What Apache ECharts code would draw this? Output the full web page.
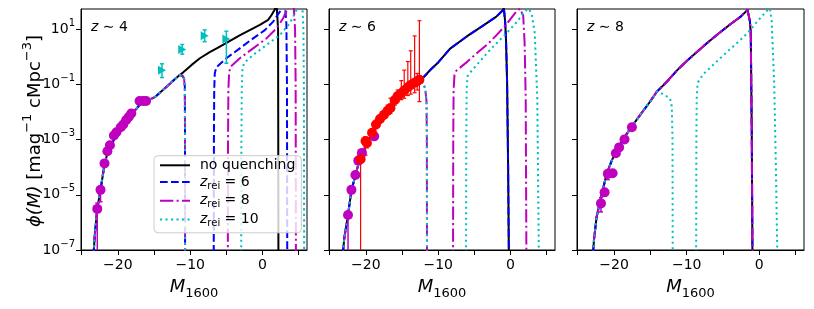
<!DOCTYPE html>
<html><head><meta charset="utf-8">
<script src="https://cdn.jsdelivr.net/npm/echarts@6/dist/echarts.min.js"></script>
<style>html,body{margin:0;padding:0;background:#fff}#c{width:814px;height:309px}</style>
</head><body><div id="c"></div><script>
// ---------- DATA (M_1600, log10 phi [mag^-1 cMpc^-3]) ----------
const xTicks = [-25, -20, -15, -10, -5, 0, 5];
const xTickLabels = [-20, -10, 0];
const yTicks = [-7, -5, -3, -1, 1];
const panelTitles = ['4', '6', '8'];

// z ~ 4
const z4_bright_M = [-23.45,-23.2,-22.85,-22.4,-21.85,-21.4,-20.8,-20.2,-19.5,-18.85,-18.15,-17.5,-17.0,-16.5,-15.7,-14.9,-14.2,-13.5,-12.8,-12.1,-11.45];
const z4_bright_y = [-7.5,-6.5,-5.5,-4.82,-3.9,-3.45,-3.15,-2.8,-2.52,-2.3,-2.08,-1.9,-1.74,-1.66,-1.56,-1.46,-1.3,-1.14,-0.97,-0.8,-0.66];
const z4_noq_M = [-11.0,-9.8,-8.66,-7.3,-5.9,-4.5,-3.1,-1.7,-0.37,0.78,1.25,1.7,1.95,2.1,2.15,2.17,2.2];
const z4_noq_y = [-0.57,-0.29,-0.05,0.17,0.37,0.58,0.79,0.98,1.16,1.34,1.52,1.72,1.9,1.9,1.0,-2,-7.5];
const z4_drop_M = [-11.1,-10.85,-10.74,-10.72,-10.71];
const z4_drop_y = [-0.68,-0.78,-1.1,-2.5,-7.5];
const z4_z6_M = [-6.75,-6.72,-6.68,-6.6,-6.4,-5.0,-3.14,-1.3,0.32,1.47,2.4,2.7,3.1,3.3,3.38,3.42];
const z4_z6_y = [-7.5,-3,-1.2,-0.6,-0.38,-0.05,0.31,0.67,0.97,1.28,1.64,1.85,1.9,1.2,-1,-7.5];
const z4_z8_M = [-4.8,-4.77,-4.72,-4.62,-4.4,-3.14,-1.3,0.55,1.94,2.85,3.5,3.8,4.3,4.5,4.58,4.62];
const z4_z8_y = [-7.5,-3,-1.2,-0.55,-0.35,-0.05,0.31,0.67,1.04,1.4,1.76,1.9,1.9,1.0,-1,-7.5];
const z4_z10_M = [-2.95,-2.92,-2.87,-2.78,-2.55,-1.3,0.55,2.4,3.78,4.47,4.8,5.2,5.5,5.65,5.72,5.76];
const z4_z10_y = [-7.5,-3,-1.2,-0.45,-0.22,0.07,0.43,0.79,1.22,1.58,1.76,1.9,1.9,1.0,-1,-7.5];
const z4_mag_M = [-22.85,-22.4,-21.85,-21.45,-21.1,-20.55,-20.2,-19.6,-19.25,-18.85,-18.5,-18.15,-17.0,-16.5,-16.1];
const z4_mag_y = [-5.51,-4.82,-3.86,-3.42,-3.2,-2.85,-2.73,-2.55,-2.45,-2.29,-2.18,-2.05,-1.6,-1.6,-1.6];
const z4_mag_lo = [-7.5,-5.25,-3.95,-3.5,-3.27,-2.92,-2.8,-2.6,-2.5,-2.34,-2.23,-2.1,-1.65,-1.65,-1.65];
const z4_mag_hi = [-5.3,-4.7,-3.78,-3.35,-3.13,-2.78,-2.66,-2.5,-2.4,-2.24,-2.13,-2.0,-1.55,-1.55,-1.55];
const z4_tri_M = [-13.9,-11.1,-8.0,-5.0];
const z4_tri_y = [-0.48,0.27,0.77,0.65];
const z4_tri_lo = [-0.75,0.1,0.55,-0.23];
const z4_tri_hi = [-0.25,0.45,0.98,0.93];

// z ~ 6
const z6_bright_M = [-23.3,-23.0,-22.47,-22.0,-21.4,-21.0,-20.5,-20.0,-19.5,-19.0,-18.5,-18.0,-17.0,-16.0,-15.0,-14.0,-13.0,-12.5];
const z6_bright_y = [-7.5,-6.6,-5.73,-4.85,-4.25,-3.85,-3.5,-3.2,-2.95,-2.72,-2.5,-2.3,-1.98,-1.68,-1.4,-1.15,-0.93,-0.83];
const z6_noq_M = [-12.0,-11.0,-10.0,-8.35,-6.0,-4.0,-2.0,-1.1,-0.92,-0.75,-0.62,-0.47,-0.33,-0.22];
const z6_noq_y = [-0.73,-0.45,-0.2,0.3,0.75,1.1,1.45,1.68,1.76,1.3,0.6,-0.96,-4.0,-7.5];
const z6_drop_M = [-12.1,-11.8,-11.62,-11.57,-11.55];
const z6_drop_y = [-0.95,-1.14,-1.6,-3,-7.5];
const z6_z8_M = [-7.95,-7.92,-7.87,-7.75,-7.5,-6.0,-4.68,-3.0,-1.93,-0.5,0.6,1.3,1.55,1.75,1.95,2.1,2.2];
const z6_z8_y = [-7.5,-3,-1.2,-0.65,-0.5,-0.18,0.13,0.5,0.79,1.2,1.58,1.75,1.78,1.5,0.5,-1.5,-7.5];
const z6_z10_M = [-6.15,-6.12,-6.07,-5.95,-5.6,-4.2,-2.85,-0.55,1.0,1.7,2.4,2.9,3.35,3.7,3.93];
const z6_z10_y = [-7.5,-3,-1.2,-0.7,-0.57,-0.15,0.25,0.86,1.3,1.57,1.75,1.6,0.86,-1.5,-7.5];
const z6_mag_M = [-22.47,-22.0,-21.45,-21.05,-20.55,-18.85];
const z6_mag_y = [-5.73,-4.82,-4.28,-3.76,-3.48,-2.88];
const z6_mag_lo = [-7.5,-4.95,-4.38,-3.85,-3.56,-2.95];
const z6_mag_hi = [-5.6,-4.7,-4.18,-3.68,-3.4,-2.8];
const z6_red_M = [-20.73,-20.05,-19.85,-19.15,-18.6,-18.05,-17.5,-17.0,-16.6,-16.0,-15.6,-15.1,-14.7,-14.2,-13.8,-13.26,-12.9,-12.6];
const z6_red_y = [-3.71,-3.05,-3.12,-2.75,-2.45,-2.25,-2.1,-1.95,-1.85,-1.56,-1.42,-1.32,-1.22,-1.1,-1.02,-0.94,-0.88,-0.83];
const z6_red_lo = [-7.5,-3.56,-3.3,-2.9,-2.6,-2.4,-2.25,-2.1,-2.05,-1.75,-1.62,-1.55,-1.5,-1.4,-1.35,-1.3,-1.2,-1.62];
const z6_red_hi = [-3.55,-2.9,-2.95,-2.6,-2.3,-2.1,-1.95,-1.75,-1.5,-1.38,-1.2,-0.86,-0.48,-0.17,0.22,0.76,-0.6,1.31];

// z ~ 8
const z8_bright_M = [-23.0,-22.75,-22.4,-21.8,-21.0,-20.3,-19.6,-18.9,-18.2,-17.3,-16.4,-15.2,-14.1];
const z8_bright_y = [-7.5,-6.6,-5.8,-5.1,-4.22,-3.75,-3.37,-3.05,-2.77,-2.43,-2.1,-1.68,-1.26];
const z8_noq_M = [-12.8,-11.3,-10.0,-8.55,-6.9,-5.3,-3.9,-2.56,-1.63,-1.45,-1.3,-1.18,-1.04,-0.94];
const z8_noq_y = [-0.92,-0.48,-0.15,0.19,0.57,0.91,1.2,1.46,1.7,1.77,1.3,0.86,-2.77,-7.5];
const z8_drop_M = [-13.6,-12.8,-12.3,-12.05,-11.95,-11.92];
const z8_drop_y = [-1.3,-1.42,-1.5,-1.8,-3,-7.5];
const z8_z10_M = [-8.7,-8.67,-8.62,-8.5,-8.2,-7.6,-6.0,-4.4,-3.0,-1.63,-0.3,1.13,1.45,1.69,2.05,2.28,2.5];
const z8_z10_y = [-7.5,-3,-1.5,-0.95,-0.8,-0.6,-0.2,0.19,0.52,0.86,1.28,1.7,1.76,1.34,-0.96,-3.98,-7.5];
const z8_mag_M = [-21.8,-21.3,-20.86,-20.2,-19.75,-19.3,-18.56,-17.54];
const z8_mag_y = [-5.31,-4.91,-4.24,-4.22,-3.49,-3.28,-2.99,-2.55];
const z8_mag_lo = [-5.62,-5.05,-4.45,-4.35,-3.6,-3.38,-3.08,-2.62];
const z8_mag_hi = [-5.1,-4.8,-4.1,-4.1,-3.4,-3.2,-2.9,-2.48];

// ---------- CHART ----------
const FONT = 'DejaVu Sans';
const C = {noq:'#000000', z6:'#0000ff', z8:'#bf00bf', z10:'#00bfbf', red:'#ff0000'};
const STY = {
  'no quenching': {color:C.noq, type:'solid'},
  'zrei6': {color:C.z6, type:[7.7,3.3]},
  'zrei8': {color:C.z8, type:[13.3,3.3,2.1,3.3]},
  'zrei10': {color:C.z10, type:[2.1,3.4]}
};
const zip = (M, y) => M.map((m, i) => [m, y[i]]);
const cat = (...parts) => [].concat(...parts);
const minus = v => (v < 0 ? '\u2212' + Math.abs(v) : String(v));

function line(gi, name, data) {
  const s = STY[name];
  return {type:'line', name, xAxisIndex:gi, yAxisIndex:gi, data, symbol:'none', showSymbol:false,
    silent:true, clip:true, z:2, animation:false,
    lineStyle:{color:s.color, width:2, type:s.type, cap:'butt', join:'round'}, itemStyle:{color:s.color}};
}
function scat(gi, name, M, y, color, symbol, size) {
  return {type:'scatter', name, xAxisIndex:gi, yAxisIndex:gi, data:zip(M, y), symbol, symbolSize:size,
    itemStyle:{color, opacity:1}, silent:true, z:4, clip:true, animation:false};
}
function err(gi, M, lo, hi, color, lw, cap) {
  return {type:'custom', xAxisIndex:gi, yAxisIndex:gi, clip:true, silent:true, z:3, animation:false,
    data:M.map((m, i) => [m, lo[i], hi[i]]), encode:{x:0, y:[1, 2]},
    renderItem:(p, api) => {
      const x = api.value(0);
      const a = api.coord([x, api.value(1)]), b = api.coord([x, api.value(2)]);
      const st = {stroke:color, lineWidth:lw};
      const ch = [{type:'line', shape:{x1:a[0], y1:a[1], x2:b[0], y2:b[1]}, style:st}];
      if (cap > 0) {
        ch.push({type:'line', shape:{x1:a[0]-cap, y1:a[1], x2:a[0]+cap, y2:a[1]}, style:st});
        ch.push({type:'line', shape:{x1:b[0]-cap, y1:b[1], x2:b[0]+cap, y2:b[1]}, style:st});
      }
      return {type:'group', children:ch};
    }};
}

const grids = [
  {left:81, top:9, width:226, height:241},
  {left:329, top:9, width:226, height:241},
  {left:577, top:9, width:227, height:241}
].map(g => Object.assign({show:true, borderColor:'#000', borderWidth:1, backgroundColor:'transparent'}, g));

const xAxes = [0, 1, 2].map(i => ({
  gridIndex:i, type:'value', min:-25.1, max:6.15,
  axisLine:{show:true, onZero:false, lineStyle:{color:'#000', width:1}},
  axisTick:{show:true, inside:false, length:5, customValues:xTicks, lineStyle:{color:'#000', width:1}},
  axisLabel:{show:true, customValues:xTickLabels, formatter:minus, color:'#000', fontSize:14, fontFamily:FONT, margin:8},
  splitLine:{show:false},
  name:'{m|M}{s|1600}', nameLocation:'middle', nameGap:24,
  nameTextStyle:{color:'#000', fontFamily:FONT, rich:{
    m:{fontSize:18, fontStyle:'italic', fontFamily:FONT, lineHeight:26, color:'#000'},
    s:{fontSize:13, fontFamily:FONT, lineHeight:13, verticalAlign:'bottom', color:'#000'}}}
}));
const yAxes = [0, 1, 2].map(i => ({
  gridIndex:i, type:'value', min:-7, max:1.736,
  axisLine:{show:true, onZero:false, lineStyle:{color:'#000', width:1}},
  axisTick:{show:true, inside:false, length:5, customValues:yTicks, lineStyle:{color:'#000', width:1}},
  axisLabel:{show:i === 0, customValues:yTicks, margin:6,
    formatter:v => '{b|10}{s|' + minus(v) + '}',
    rich:{b:{fontSize:14, fontFamily:FONT, color:'#000', lineHeight:22},
          s:{fontSize:10, fontFamily:FONT, color:'#000', lineHeight:10, verticalAlign:'top'}}},
  splitLine:{show:false}
}));

const series = [
  // z ~ 4
  line(0, 'no quenching', cat(zip(z4_bright_M, z4_bright_y), zip(z4_noq_M, z4_noq_y))),
  line(0, 'zrei6', cat(zip(z4_bright_M, z4_bright_y), zip(z4_drop_M, z4_drop_y))),
  line(0, 'zrei6', zip(z4_z6_M, z4_z6_y)),
  line(0, 'zrei8', cat(zip(z4_bright_M, z4_bright_y), zip(z4_drop_M, z4_drop_y))),
  line(0, 'zrei8', zip(z4_z8_M, z4_z8_y)),
  line(0, 'zrei10', cat(zip(z4_bright_M, z4_bright_y), zip(z4_drop_M, z4_drop_y))),
  line(0, 'zrei10', zip(z4_z10_M, z4_z10_y)),
  err(0, z4_mag_M, z4_mag_lo, z4_mag_hi, C.z8, 1.5, 2),
  scat(0, 'z4mag', z4_mag_M, z4_mag_y, C.z8, 'circle', 10),
  err(0, z4_tri_M, z4_tri_lo, z4_tri_hi, C.z10, 1.5, 2),
  scat(0, 'z4tri', z4_tri_M, z4_tri_y, C.z10, 'path://M0,0L10,5L0,10Z', [8, 9]),
  // z ~ 6
  line(1, 'no quenching', cat(zip(z6_bright_M, z6_bright_y), zip(z6_noq_M, z6_noq_y))),
  line(1, 'zrei6', cat(zip(z6_bright_M, z6_bright_y), zip(z6_noq_M, z6_noq_y))),
  line(1, 'zrei8', cat(zip(z6_bright_M, z6_bright_y), zip(z6_drop_M, z6_drop_y))),
  line(1, 'zrei8', zip(z6_z8_M, z6_z8_y)),
  line(1, 'zrei10', cat(zip(z6_bright_M, z6_bright_y), zip(z6_drop_M, z6_drop_y))),
  line(1, 'zrei10', zip(z6_z10_M, z6_z10_y)),
  err(1, z6_mag_M, z6_mag_lo, z6_mag_hi, C.z8, 1.5, 2),
  scat(1, 'z6mag', z6_mag_M, z6_mag_y, C.z8, 'circle', 10),
  err(1, z6_red_M, z6_red_lo, z6_red_hi, C.red, 1.2, 2),
  scat(1, 'z6red', z6_red_M, z6_red_y, C.red, 'circle', 10),
  // z ~ 8
  line(2, 'no quenching', cat(zip(z8_bright_M, z8_bright_y), zip(z8_noq_M, z8_noq_y))),
  line(2, 'zrei6', cat(zip(z8_bright_M, z8_bright_y), zip(z8_noq_M, z8_noq_y))),
  line(2, 'zrei8', cat(zip(z8_bright_M, z8_bright_y), zip(z8_noq_M, z8_noq_y))),
  line(2, 'zrei10', cat(zip(z8_bright_M, z8_bright_y), zip(z8_drop_M, z8_drop_y))),
  line(2, 'zrei10', zip(z8_z10_M, z8_z10_y)),
  err(2, z8_mag_M, z8_mag_lo, z8_mag_hi, C.z8, 1.5, 2),
  scat(2, 'z8mag', z8_mag_M, z8_mag_y, C.z8, 'circle', 10)
];

const LEG = {'no quenching':'{n|no quenching}', 'zrei6':'{z|z}{s|rei}{n| = 6}', 'zrei8':'{z|z}{s|rei}{n| = 8}', 'zrei10':'{z|z}{s|rei}{n| = 10}'};

const graphic = [
  {type:'text', x:35, y:131, rotation:Math.PI/2, silent:true,
   style:{text:'{i|\u03d5(M)}{n| [mag}{p|\u22121}{n| cMpc}{p|\u22123}{n|]}', fill:'#000',
     align:'center', verticalAlign:'middle', textAlign:'center', textVerticalAlign:'middle',
     font:'18px "DejaVu Sans"',
     rich:{i:{fontSize:18, fontStyle:'italic', fontFamily:FONT, lineHeight:28},
           n:{fontSize:18, fontFamily:FONT, lineHeight:28},
           p:{fontSize:13, fontFamily:FONT, lineHeight:13, verticalAlign:'top'}}}}
].concat(panelTitles.map((t, i) => ({
  type:'text', x:grids[i].left + 10, y:27, silent:true,
  style:{text:'{i|z}{n| \u223c ' + t + '}', fill:'#000', align:'left', verticalAlign:'middle',
    textAlign:'left', textVerticalAlign:'middle', font:'14px "DejaVu Sans"',
    rich:{i:{fontSize:14, fontStyle:'italic', fontFamily:FONT}, n:{fontSize:14, fontFamily:FONT}}}
})));

const chart = echarts.init(document.getElementById('c'), null, {renderer:'canvas'});
chart.setOption({
  animation:false,
  backgroundColor:'#ffffff',
  textStyle:{fontFamily:FONT},
  grid:grids, xAxis:xAxes, yAxis:yAxes, series, graphic,
  legend:{left:154, top:155.7, orient:'vertical', selectedMode:false,
    data:['no quenching', 'zrei6', 'zrei8', 'zrei10'],
    itemWidth:30, itemHeight:14, itemGap:2.7, padding:[2.6, 6, 4.4, 5],
    itemStyle:{color:'rgba(0,0,0,0)', borderColor:'rgba(0,0,0,0)', borderWidth:0},
    backgroundColor:'rgba(255,255,255,0.8)', borderColor:'#cccccc', borderWidth:1, borderRadius:4,
    formatter:n => LEG[n],
    textStyle:{color:'#000', fontSize:14, fontFamily:FONT, padding:[0, 0, 0, 5], rich:{
      n:{fontSize:14, fontFamily:FONT, lineHeight:18, color:'#000'},
      z:{fontSize:14, fontFamily:FONT, fontStyle:'italic', lineHeight:18, color:'#000'},
      s:{fontSize:10, fontFamily:FONT, lineHeight:10, verticalAlign:'bottom', color:'#000'}}}}
});
</script></body></html>
